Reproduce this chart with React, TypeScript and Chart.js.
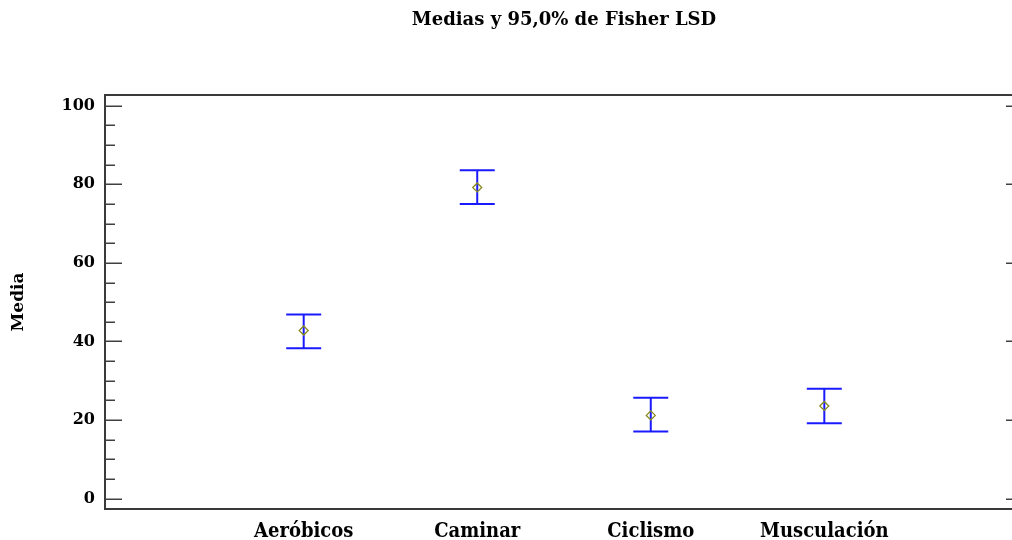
import React, { useEffect, useRef } from "react";
import { Chart, registerables } from "chart.js";

Chart.register(...registerables);

const titleText = "Medias y 95,0% de Fisher LSD";
const yTitle = "Media";
const categories = ["Aeróbicos", "Caminar", "Ciclismo", "Musculación"];
const categoryPositions = [1, 2, 3, 4];
const means = [42.8, 79.2, 21.2, 23.6];
const lowerLimits = [38.3, 75.0, 17.1, 19.2];
const upperLimits = [46.9, 83.6, 25.7, 28.0];
const yMajorTicks = [0, 20, 40, 60, 80, 100];
const yMinorTicks = [5, 10, 15, 25, 30, 35, 45, 50, 55, 65, 70, 75, 85, 90, 95];

const FONT = "'DejaVu Serif', serif";
const FONT_COND = "'DejaVu Serif Condensed', 'DejaVu Serif', serif";

const framePlugin = {
  id: "lsdFrame",
  beforeDatasetsDraw(chart: any) {
    const { ctx, chartArea, scales } = chart;
    const { left, right, top, bottom } = chartArea;
    const x = scales.x;
    const y = scales.y;
    ctx.save();
    const line = (x1: number, y1: number, x2: number, y2: number) => {
      ctx.beginPath();
      ctx.moveTo(x1, y1);
      ctx.lineTo(x2, y2);
      ctx.stroke();
    };
    // frame
    ctx.strokeStyle = "#3a3a3a";
    ctx.lineWidth = 2;
    ctx.beginPath();
    ctx.moveTo(right, bottom);
    ctx.lineTo(right, top);
    ctx.lineTo(left, top);
    ctx.lineTo(left, bottom);
    ctx.lineTo(right, bottom);
    ctx.stroke();
    // ticks
    ctx.lineWidth = 1.5;
    ctx.strokeStyle = "#404040";
    yMajorTicks.forEach((v) => {
      const py = Math.round(y.getPixelForValue(v)) + 0.25;
      line(left, py, left + 17, py);
      line(right, py, right - 17, py);
    });
    yMinorTicks.forEach((v) => {
      const py = Math.round(y.getPixelForValue(v)) + 0.25;
      line(left, py, left + 10, py);
    });
    // error bars
    ctx.strokeStyle = "#1a1aff";
    ctx.lineWidth = 2;
    categoryPositions.forEach((pos, i) => {
      const px = x.getPixelForValue(pos);
      const yl = y.getPixelForValue(lowerLimits[i]);
      const yu = y.getPixelForValue(upperLimits[i]);
      line(px, yl, px, yu);
      line(px - 17.5, yl, px + 17.5, yl);
      line(px - 17.5, yu, px + 17.5, yu);
    });
    ctx.restore();
  },
};

export default function App() {
  const canvasRef = useRef<HTMLCanvasElement | null>(null);

  useEffect(() => {
    const canvas = canvasRef.current;
    if (!canvas) return;
    const chart = new Chart(canvas, {
      type: "scatter",
      data: {
        datasets: [
          {
            data: categoryPositions.map((p, i) => ({ x: p, y: means[i] })),
            pointStyle: "rectRot",
            pointRadius: 4.5,
            pointBorderWidth: 1.3,
            borderColor: "#8a8a20",
            backgroundColor: "rgba(0,0,0,0)",
            pointHoverRadius: 4.5,
          },
        ],
      },
      options: {
        responsive: false,
        animation: false,
        events: [],
        layout: { padding: 0, autoPadding: false },
        plugins: {
          legend: { display: false },
          tooltip: { enabled: false },
          title: {
            display: true,
            text: titleText,
            fullSize: false,
            color: "#000",
            font: { family: FONT, size: 18, weight: "bold", lineHeight: 1.2 },
            padding: { top: 10, bottom: 63.4 },
          },
        },
        scales: {
          x: {
            type: "linear",
            min: -0.145,
            max: 5.145,
            grid: { display: false, drawTicks: false },
            border: { display: false },
            afterBuildTicks: (scale: any) => {
              scale.ticks = categoryPositions.map((v) => ({ value: v }));
            },
            afterFit: (scale: any) => {
              scale.height = 31;
              scale.paddingLeft = 0;
              scale.paddingRight = 0;
            },
            ticks: {
              autoSkip: false,
              maxRotation: 0,
              padding: 11,
              color: "#000",
              font: { family: FONT_COND, size: 20, weight: "bold" },
              callback: (v: any) => categories[categoryPositions.indexOf(Number(v))] ?? "",
            },
          },
          y: {
            type: "linear",
            min: -2.62,
            max: 102.72,
            grid: { display: false, drawTicks: false },
            border: { display: false },
            afterBuildTicks: (scale: any) => {
              scale.ticks = yMajorTicks.map((v) => ({ value: v }));
            },
            afterFit: (scale: any) => {
              scale.width = 105;
              scale.paddingTop = 0;
              scale.paddingBottom = 0;
            },
            ticks: {
              padding: 10,
              color: "#000",
              font: { family: FONT, size: 16, weight: "bold" },
            },
            title: {
              display: true,
              text: yTitle,
              color: "#000",
              font: { family: FONT, size: 17, weight: "bold", lineHeight: 1.2 },
              padding: { top: 8, bottom: 0 },
            },
          },
        },
      },
      plugins: [framePlugin],
    });
    return () => chart.destroy();
  }, []);

  return (
    <div style={{ position: "fixed", left: 0, top: 0, width: 1012, height: 540, overflow: "hidden", background: "#fff" }}>
      <canvas ref={canvasRef} width={1023} height={540} style={{ display: "block" }} />
    </div>
  );
}
